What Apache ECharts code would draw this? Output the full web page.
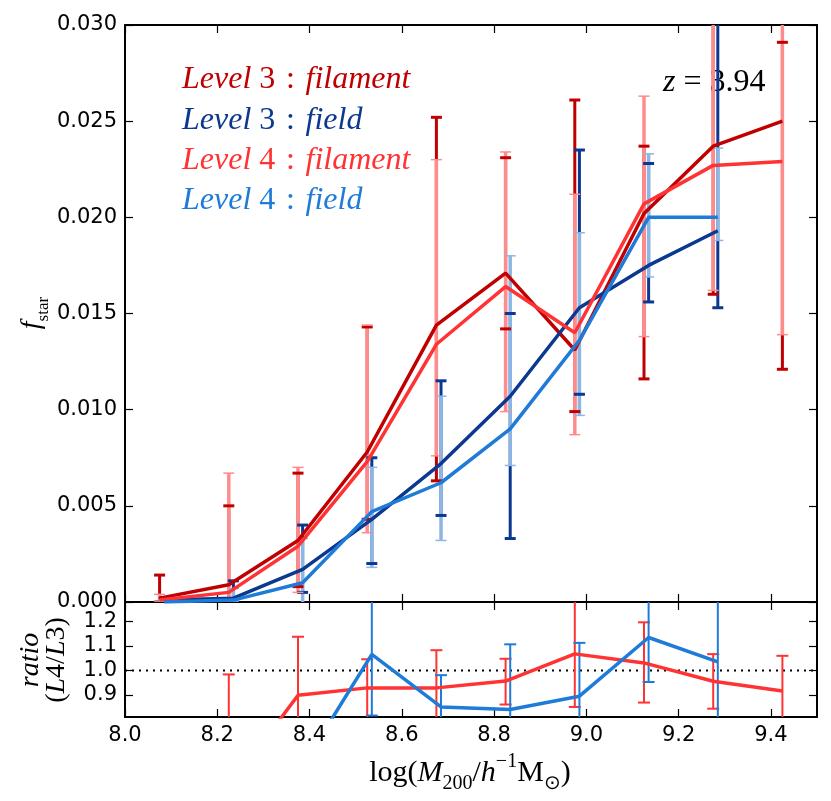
<!DOCTYPE html>
<html lang="en">
<head>
    <meta charset="utf-8" />
    <title>f_star vs halo mass</title>
    <script src="https://cdn.jsdelivr.net/npm/echarts@6/dist/echarts.min.js"></script>
    <style>
        html, body { margin: 0; padding: 0; background: #fff; }
        #chart { width: 831px; height: 801px; }
    </style>
</head>
<body>
<div id="chart"></div>
<script>
// bin centres (filament and field are drawn slightly offset)
var xFil = [8.075, 8.225, 8.375, 8.525, 8.675, 8.825, 8.975, 9.125, 9.275, 9.425];
var xFld = [8.085, 8.235, 8.385, 8.535, 8.685, 8.835, 8.985, 9.135, 9.285];
var xTicks = [8.0, 8.2, 8.4, 8.6, 8.8, 9.0, 9.2, 9.4];
var ratioTicks = [0.9, 1.0, 1.1, 1.2];

// Level 3 : filament
var l3Fil   = [0.0002, 0.0009, 0.0032, 0.0078, 0.0144, 0.0171, 0.0131, 0.0202, 0.0237, 0.0250];
var l3FilLo = [0.0000, 0.0000, 0.0008, 0.0043, 0.0063, 0.0142, 0.0099, 0.0116, 0.0160, 0.0121];
var l3FilHi = [0.0014, 0.0050, 0.0067, 0.0143, 0.0252, 0.0231, 0.0261, 0.0237, 0.0340, 0.0291];
// Level 3 : field
var l3Fld   = [0.0001, 0.0002, 0.0017, 0.0043, 0.0072, 0.0107, 0.0153, 0.0175, 0.0193];
var l3FldLo = [0.0000, 0.0000, 0.0005, 0.0020, 0.0045, 0.0033, 0.0108, 0.0156, 0.0153];
var l3FldHi = [0.0002, 0.0011, 0.0040, 0.0075, 0.0115, 0.0150, 0.0235, 0.0228, 0.0340];
// Level 4 : filament
var l4Fil   = [0.0001, 0.0005, 0.0029, 0.0073, 0.0134, 0.0164, 0.0140, 0.0207, 0.0227, 0.0229];
var l4FilLo = [0.0000, 0.0001, 0.0005, 0.0036, 0.0076, 0.0099, 0.0087, 0.0138, 0.0162, 0.0139];
var l4FilHi = [0.0004, 0.0067, 0.0070, 0.0144, 0.0230, 0.0234, 0.0212, 0.0263, 0.0340, 0.0340];
// Level 4 : field
var l4Fld   = [0.0000, 0.0001, 0.0010, 0.0047, 0.0062, 0.0090, 0.0136, 0.0200, 0.0200];
var l4FldLo = [0.0000, 0.0000, -0.0005, 0.0018, 0.0032, 0.0071, 0.0097, 0.0169, 0.0188];
var l4FldHi = [0.0001, 0.0007, 0.0033, 0.0070, 0.0107, 0.0180, 0.0192, 0.0233, 0.0236];

// ratio L4/L3
var ratioFil   = [0.50, 0.52, 0.899, 0.929, 0.929, 0.957, 1.068, 1.031, 0.956, 0.916];
var ratioFilLo = [0.10, 0.20, 0.60, 0.70, 0.70, 0.861, 0.851, 0.869, 0.844, 0.70];
var ratioFilHi = [0.75, 0.984, 1.138, 1.046, 1.083, 1.048, 1.40, 1.197, 1.067, 1.060];
var ratioFld   = [0.00, 0.50, 0.61, 1.066, 0.851, 0.841, 0.895, 1.135, 1.035];
var ratioFldLo = [0.00, 0.10, 0.30, 0.816, 0.60, 0.60, 0.60, 0.953, 0.60];
var ratioFldHi = [0.50, 0.70, 0.78, 1.50, 0.981, 1.107, 1.113, 1.50, 1.50];

var cL3Fil = '#c00000';
var cL3Fld = '#0b3891';
var cL4Fil = '#ff3333';
var cL4Fld = '#1f7bd8';
var cL4FilBar = '#ff8c8c';
var cL4FldBar = '#8db6e4';

var serif = 'Liberation Serif';
var sans = 'DejaVu Sans';

function pairs(xs, ys) {
    return xs.map(function (x, i) { return [x, ys[i]]; });
}
function bars(xs, lo, hi) {
    return xs.map(function (x, i) { return [x, lo[i], hi[i]]; });
}

// o.part: 'bar', 'caps' or 'all'
function errSeries(xi, yi, data, o) {
    var part = o.part || 'all';
    return {
        type: 'custom',
        xAxisIndex: xi,
        yAxisIndex: yi,
        clip: true,
        silent: true,
        z: 2,
        data: data,
        encode: { x: 0, y: [1, 2] },
        renderItem: function (params, api) {
            var x = api.value(0);
            var a = api.coord([x, api.value(1)]);
            var b = api.coord([x, api.value(2)]);
            var h = o.cap / 2;
            var kids = [];
            if (part !== 'caps') {
                kids.push({ type: 'line', shape: { x1: a[0], y1: a[1], x2: b[0], y2: b[1] },
                    style: { stroke: o.color, lineWidth: o.width } });
            }
            if (part !== 'bar') {
                var cs = { stroke: o.capColor || o.color, lineWidth: o.capWidth };
                kids.push({ type: 'line', shape: { x1: a[0] - h, y1: a[1], x2: a[0] + h, y2: a[1] }, style: cs });
                kids.push({ type: 'line', shape: { x1: b[0] - h, y1: b[1], x2: b[0] + h, y2: b[1] }, style: cs });
            }
            return { type: 'group', children: kids };
        }
    };
}

function lineSeries(xi, yi, data, color) {
    return {
        type: 'line',
        xAxisIndex: xi,
        yAxisIndex: yi,
        data: data,
        symbol: 'none',
        silent: true,
        z: 3,
        lineStyle: { color: color, width: 3.5 }
    };
}

function xAx(grid, pos, labels) {
    return {
        type: 'value', gridIndex: grid, position: pos, min: 8.0, max: 9.5,
        axisLine: { show: true, onZero: false, lineStyle: { color: '#000', width: 2 } },
        axisTick: { show: true, inside: true, length: 8, customValues: xTicks, lineStyle: { color: '#000', width: 1.2 } },
        axisLabel: {
            show: labels, customValues: xTicks, margin: 8,
            fontFamily: sans, fontSize: 21, color: '#000',
            formatter: function (v) { return v.toFixed(1); }
        },
        splitLine: { show: false }
    };
}

var axisTickStyle = { show: true, inside: true, length: 8, lineStyle: { color: '#000', width: 1.2 } };
var axisLineStyle = { show: true, onZero: false, lineStyle: { color: '#000', width: 2 } };

var rich = {
    i: { fontFamily: serif, fontStyle: 'italic', fontSize: 32, lineHeight: 40 },
    n: { fontFamily: serif, fontSize: 32, lineHeight: 40 }
};
function legendText(y, str, color) {
    return {
        type: 'text', x: 182, y: y,
        style: { text: str, rich: rich, fill: color, align: 'left', verticalAlign: 'middle' }
    };
}

var option = {
    animation: false,
    backgroundColor: '#fff',
    grid: [
        { left: 125, right: 14, top: 25, height: 577 },
        { left: 125, right: 14, top: 602, height: 115 }
    ],
    xAxis: [
        xAx(0, 'bottom', false),
        xAx(0, 'top', false),
        xAx(1, 'bottom', true),
        xAx(1, 'top', false)
    ],
    yAxis: [
        {
            type: 'value', gridIndex: 0, position: 'left', min: 0, max: 0.03, interval: 0.005,
            axisLine: axisLineStyle, axisTick: axisTickStyle,
            axisLabel: {
                margin: 8, fontFamily: sans, fontSize: 21, color: '#000',
                formatter: function (v) { return v.toFixed(3); }
            },
            splitLine: { show: false }
        },
        {
            type: 'value', gridIndex: 0, position: 'right', min: 0, max: 0.03, interval: 0.005,
            axisLine: axisLineStyle, axisTick: axisTickStyle,
            axisLabel: { show: false }, splitLine: { show: false }
        },
        {
            type: 'value', gridIndex: 1, position: 'left', min: 0.81, max: 1.28,
            axisLine: axisLineStyle,
            axisTick: { show: true, inside: true, length: 8, customValues: ratioTicks, lineStyle: { color: '#000', width: 1.2 } },
            axisLabel: {
                customValues: ratioTicks, margin: 8, fontFamily: sans, fontSize: 21, color: '#000',
                formatter: function (v) { return v.toFixed(1); }
            },
            splitLine: { show: false }
        },
        {
            type: 'value', gridIndex: 1, position: 'right', min: 0.81, max: 1.28,
            axisLine: axisLineStyle,
            axisTick: { show: true, inside: true, length: 8, customValues: ratioTicks, lineStyle: { color: '#000', width: 1.2 } },
            axisLabel: { show: false }, splitLine: { show: false }
        }
    ],
    series: [
        // error bars, top panel: level 4 bars over level 3 bars, caps on top
        errSeries(0, 0, bars(xFil, l3FilLo, l3FilHi), { part: 'bar', color: cL3Fil, width: 3 }),
        errSeries(0, 0, bars(xFld, l3FldLo, l3FldHi), { part: 'bar', color: cL3Fld, width: 3 }),
        errSeries(0, 0, bars(xFil, l4FilLo, l4FilHi), { part: 'bar', color: cL4FilBar, width: 3.5 }),
        errSeries(0, 0, bars(xFld, l4FldLo, l4FldHi), { part: 'bar', color: cL4FldBar, width: 3.5 }),
        errSeries(0, 0, bars(xFil, l3FilLo, l3FilHi), { part: 'caps', color: cL3Fil, cap: 11, capWidth: 3 }),
        errSeries(0, 0, bars(xFld, l3FldLo, l3FldHi), { part: 'caps', color: cL3Fld, cap: 11, capWidth: 3 }),
        errSeries(0, 0, bars(xFil, l4FilLo, l4FilHi), { part: 'caps', color: cL4FilBar, cap: 11, capWidth: 1.5 }),
        errSeries(0, 0, bars(xFld, l4FldLo, l4FldHi), { part: 'caps', color: cL4FldBar, cap: 11, capWidth: 1.5 }),
        // lines, top panel
        lineSeries(0, 0, pairs(xFil, l3Fil), cL3Fil),
        lineSeries(0, 0, pairs(xFld, l3Fld), cL3Fld),
        lineSeries(0, 0, pairs(xFil, l4Fil), cL4Fil),
        lineSeries(0, 0, pairs(xFld, l4Fld), cL4Fld),
        // ratio panel
        {
            type: 'line', xAxisIndex: 2, yAxisIndex: 2, symbol: 'none', silent: true, z: 1,
            data: [[8.0, 1.0], [9.5, 1.0]],
            lineStyle: { color: '#000', width: 2, type: [2, 5] }
        },
        errSeries(2, 2, bars(xFil, ratioFilLo, ratioFilHi), { color: cL4Fil, width: 2, cap: 12, capWidth: 2 }),
        errSeries(2, 2, bars(xFld, ratioFldLo, ratioFldHi), { color: cL4Fld, width: 2, cap: 12, capWidth: 2 }),
        lineSeries(2, 2, pairs(xFil, ratioFil), cL4Fil),
        lineSeries(2, 2, pairs(xFld, ratioFld), cL4Fld)
    ],
    graphic: [
        legendText(80, '{i|Level }{n|3\u2004:\u2004}{i|filament}', cL3Fil),
        legendText(121, '{i|Level }{n|3\u2004:\u2004}{i|field}', cL3Fld),
        legendText(161, '{i|Level }{n|4\u2004:\u2004}{i|filament}', cL4Fil),
        legendText(201, '{i|Level }{n|4\u2004:\u2004}{i|field}', cL4Fld),
        {
            type: 'text', x: 663, y: 83,
            style: { text: '{i|z}{n| = 3.94}', rich: rich, fill: '#000', align: 'left', verticalAlign: 'middle' }
        },
        {
            type: 'text', x: 32, y: 313, rotation: Math.PI / 2,
            style: {
                text: '{f|f}{s|star}', fill: '#000', align: 'center', verticalAlign: 'middle',
                rich: {
                    f: { fontFamily: serif, fontStyle: 'italic', fontSize: 28, lineHeight: 40 },
                    s: { fontFamily: serif, fontSize: 17, lineHeight: 24, verticalAlign: 'bottom' }
                }
            }
        },
        {
            type: 'text', x: 31, y: 660, rotation: Math.PI / 2,
            style: {
                text: '{i|ratio}', fill: '#000', align: 'center', verticalAlign: 'middle',
                rich: { i: { fontFamily: serif, fontStyle: 'italic', fontSize: 28 } }
            }
        },
        {
            type: 'text', x: 57, y: 660, rotation: Math.PI / 2,
            style: {
                text: '{n|(}{i|L}{n|4/}{i|L}{n|3)}', fill: '#000', align: 'center', verticalAlign: 'middle',
                rich: {
                    i: { fontFamily: serif, fontStyle: 'italic', fontSize: 28 },
                    n: { fontFamily: serif, fontSize: 28 }
                }
            }
        },
        {
            type: 'text', x: 470, y: 773,
            style: {
                text: '{n|log(}{i|M}{sb|200}{n|/}{i|h}{sp|\u22121}{n|M}{sb|\u2299}{n|)}',
                fill: '#000', align: 'center', verticalAlign: 'middle',
                rich: {
                    n: { fontFamily: serif, fontSize: 30, lineHeight: 42 },
                    i: { fontFamily: serif, fontStyle: 'italic', fontSize: 30, lineHeight: 42 },
                    sb: { fontFamily: serif, fontSize: 20, lineHeight: 28, verticalAlign: 'bottom' },
                    sp: { fontFamily: serif, fontSize: 20, lineHeight: 22, verticalAlign: 'top' }
                }
            }
        }
    ]
};

var myChart = echarts.init(document.getElementById('chart'));
myChart.setOption(option);
</script>
</body>
</html>
